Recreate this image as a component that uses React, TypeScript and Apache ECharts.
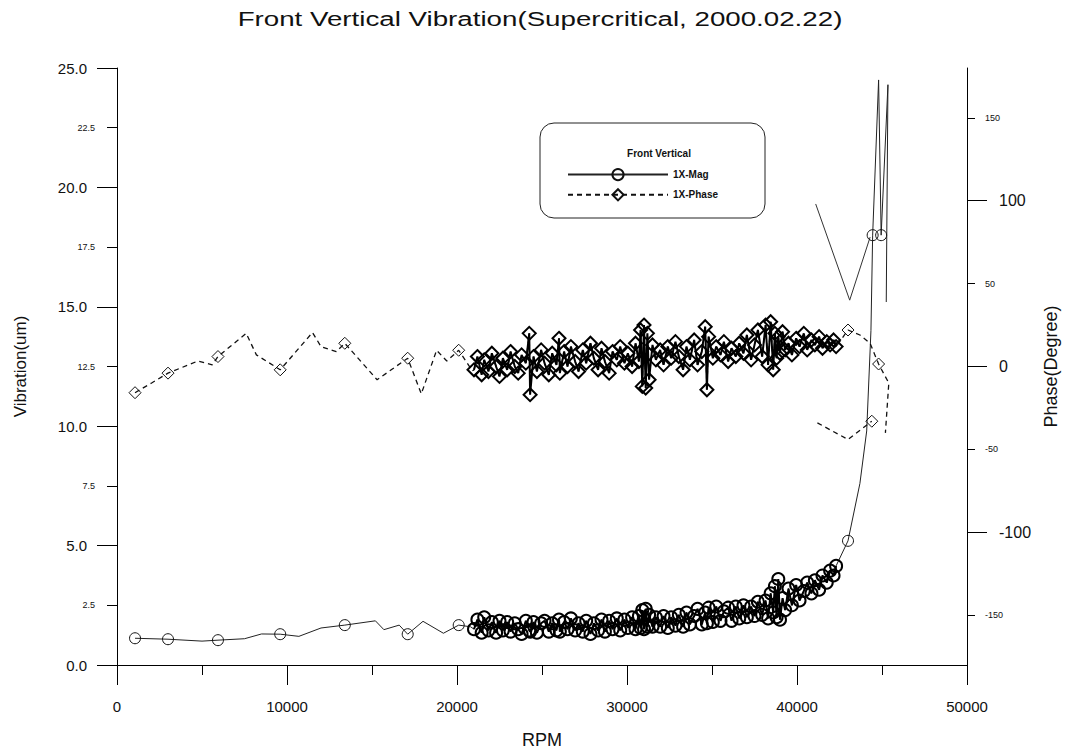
import React, { useEffect, useRef } from "react";
import * as echarts from "echarts";

// ---- data (RPM, value, marker flag) ----
const magSparse: number[][] = [
  [1060, 1.12, 1], [3000, 1.08, 1], [5000, 1.0, 0], [5940, 1.04, 1], [7500, 1.1, 0],
  [8500, 1.3, 0], [9600, 1.29, 1], [10700, 1.2, 0], [12000, 1.55, 0], [13400, 1.67, 1],
  [15200, 1.85, 0], [15700, 1.48, 0], [16600, 1.67, 0], [17100, 1.29, 1], [18000, 1.83, 0],
  [19200, 1.33, 0], [20100, 1.67, 1], [20800, 1.6, 0],
];

const magDense: number[][] = [
  [21000, 1.5], [21200, 1.9], [21450, 1.35], [21600, 2.0], [21850, 1.45], [22050, 1.8],
  [22300, 1.35], [22500, 1.85], [22700, 1.45], [22950, 1.8], [23150, 1.4], [23400, 1.75],
  [23600, 1.5], [23800, 1.3], [24050, 1.85], [24250, 1.45], [24300, 1.4], [24500, 1.8],
  [24700, 1.35], [24950, 1.75], [25150, 1.85], [25400, 1.4], [25600, 1.75], [25850, 1.45],
  [26000, 1.9], [26050, 1.4], [26300, 1.8], [26500, 1.5], [26700, 1.95], [26950, 1.45],
  [27150, 1.75], [27400, 1.4], [27600, 1.85], [27850, 1.3], [28050, 1.75], [28300, 1.45],
  [28500, 1.9], [28700, 1.4], [28950, 1.85], [29150, 1.5], [29400, 1.95], [29600, 1.45],
  [29850, 1.9], [30050, 1.55], [30300, 2.0], [30500, 1.5], [30700, 2.05], [30800, 1.55],
  [30900, 2.3], [31000, 1.5], [31100, 2.35], [31200, 1.6], [31300, 2.1], [31500, 1.6],
  [31700, 2.0], [31950, 1.6], [32150, 2.05], [32400, 1.55], [32600, 2.0], [32850, 1.65],
  [33050, 2.1], [33300, 1.6], [33500, 2.2], [33700, 1.7], [33950, 2.05], [34150, 2.35],
  [34400, 1.7], [34600, 2.2], [34700, 1.75], [34800, 2.4], [35050, 1.8], [35250, 2.45],
  [35500, 1.85], [35700, 2.25], [35950, 2.4], [36150, 1.85], [36400, 2.45], [36600, 1.95],
  [36850, 2.5], [37050, 2.0], [37300, 2.45], [37500, 2.05], [37700, 2.65], [37950, 2.1],
  [38150, 2.7], [38300, 1.95], [38450, 3.0], [38600, 2.2], [38700, 3.3], [38800, 2.0],
  [38900, 3.6], [39000, 1.9], [39150, 2.8], [39300, 2.3], [39500, 3.2], [39700, 2.5],
  [39950, 3.35], [40150, 2.7], [40400, 3.1], [40600, 3.45], [40850, 3.0], [41050, 3.55],
  [41300, 3.15], [41500, 3.75], [41750, 3.45], [41950, 3.95], [42150, 3.75], [42300, 4.15],
];

const magTail: number[][] = [
  [43000, 5.2, 1], [43700, 7.6, 0], [44100, 9.8, 0], [44350, 14, 0], [44450, 18, 1],
  [44800, 24.5, 0], [44950, 18, 1], [45350, 24.3, 0], [45250, 15.2, 0],
];

const phaseSparse: number[][] = [
  [1060, -15.8, 1], [2060, -9.8, 0], [3000, -4, 1], [4760, 3.3, 0], [5600, 1, 0],
  [5940, 6, 1], [7600, 20, 0], [8200, 7, 0], [9600, -2, 1], [11500, 20.5, 0],
  [12000, 12, 0], [12900, 9, 0], [13400, 14, 1], [15300, -8, 0], [17100, 5, 1],
  [17900, -16.5, 0], [18800, 9.8, 0], [19400, 3.3, 0], [20100, 9.8, 1], [20900, -2.6, 0],
];

const phaseDense: number[][] = [
  [21000, -2], [21200, 6], [21450, -5], [21600, 4], [21850, -3], [22050, 8],
  [22300, 0], [22500, -6], [22700, 5], [22950, -2], [23150, 9], [23400, 0],
  [23600, -4], [23800, 7], [24050, 2], [24250, 20], [24300, -17], [24500, 6],
  [24700, -3], [24950, 10], [25150, 2], [25400, -5], [25600, 8], [25850, 1],
  [26000, 17], [26050, -4], [26300, 9], [26500, 0], [26700, 12], [26950, 3],
  [27150, -3], [27400, 10], [27600, 2], [27850, 14], [28050, 5], [28300, -2],
  [28500, 11], [28700, 3], [28950, -4], [29150, 9], [29400, 4], [29600, 12],
  [29850, 2], [30050, 8], [30300, 0], [30500, 14], [30700, 3], [30800, 22],
  [30900, -12], [31000, 25], [31100, -13], [31200, 20], [31300, -8], [31500, 13],
  [31700, 4], [31950, 10], [32150, 1], [32400, 12], [32600, 5], [32850, 15],
  [33050, 6], [33300, -2], [33500, 12], [33700, 4], [33950, 16], [34150, 1],
  [34400, 9], [34600, 24], [34700, -14], [34800, 18], [35050, 5], [35250, 12],
  [35500, 7], [35700, 15], [35950, 3], [36150, 11], [36400, 6], [36600, 14],
  [36850, 8], [37050, 19], [37300, 4], [37500, 13], [37700, 22], [37950, 6],
  [38150, 25], [38300, 1], [38450, 27], [38600, -2], [38700, 20], [38800, 5],
  [38900, 18], [39000, 8], [39150, 21], [39300, 10], [39500, 14], [39700, 7],
  [39950, 17], [40150, 12], [40400, 20], [40600, 10], [40850, 16], [41050, 13],
  [41300, 18], [41500, 11], [41750, 15], [41950, 13], [42150, 16], [42300, 12],
];

const phaseTail: number[][] = [
  [43000, 22, 1], [43700, 19, 0], [44300, 14, 0], [44800, 1.5, 1], [45400, -10, 0], [45200, -40, 0],
];

const phaseLowSegment: number[][] = [
  [41200, -34, 0], [43000, -44, 0], [44400, -33, 1],
];

const phaseHighSegment: number[][] = [
  [41100, 98], [43100, 40], [44300, 78],
];

const leftMajorTicks = [0, 5, 10, 15, 20, 25];
const rightMajorTicks = [-100, 0, 100];
const rightMinorTicks = [-150, -50, 50, 150];

const TITLE = "Front Vertical Vibration(Supercritical, 2000.02.22)";
const LEGEND_TITLE = "Front Vertical";

function toItems(rows: number[][], defaultMarker: number) {
  return rows.map((r) => {
    const m = r.length > 2 ? r[2] : defaultMarker;
    return m ? { value: [r[0], r[1]] } : { value: [r[0], r[1]], symbol: "none" };
  });
}

const FONT = "Liberation Sans, Arial, sans-serif";

export default function App() {
  const ref = useRef<HTMLDivElement>(null);
  useEffect(() => {
    if (!ref.current) return;
    const chart = echarts.init(ref.current, null, { renderer: "svg" });
    const magData = [...toItems(magSparse, 1), ...toItems(magDense, 0), ...toItems(magTail, 1)];
    const phaseData = [...toItems(phaseSparse, 1), ...toItems(phaseDense, 0), ...toItems(phaseTail, 1)];
    const black = "#000";
    const hollow = { color: "rgba(255,255,255,0)", borderColor: "#111", borderWidth: 1 };
    const hollowDense = { color: "rgba(255,255,255,0)", borderColor: "#000", borderWidth: 2 };
    chart.setOption({
      animation: false,
      backgroundColor: "#fff",
      textStyle: { fontFamily: FONT, color: black },
      grid: { left: 117, right: 112, top: 68, bottom: 85 },
      graphic: [
        {
          type: "text",
          x: 540,
          y: 19,
          scaleX: 1.32,
          style: { text: TITLE, font: `21px ${FONT}`, fill: "#111", align: "center", verticalAlign: "middle" },
        },
        {
          type: "rect",
          shape: { x: 540, y: 123, width: 225, height: 95, r: 14 },
          style: { fill: "none", stroke: "#222", lineWidth: 1 },
        },
        {
          type: "text",
          x: 659,
          y: 153,
          style: { text: LEGEND_TITLE, font: `bold 10px ${FONT}`, fill: "#111", align: "center", verticalAlign: "middle" },
        },
      ],
      legend: {
        data: ["1X-Mag", "1X-Phase"],
        orient: "vertical",
        left: 562,
        top: 163,
        itemWidth: 100,
        itemHeight: 14,
        itemGap: 7,
        textStyle: { fontSize: 10, fontWeight: "bold", color: "#111", fontFamily: FONT },
      },
      xAxis: {
        type: "value",
        min: 0,
        max: 50000,
        interval: 10000,
        name: "RPM",
        nameLocation: "middle",
        nameGap: 66,
        nameTextStyle: { fontSize: 18, color: "#111" },
        axisLine: { show: true, onZero: false, lineStyle: { color: black, width: 1 } },
        axisTick: { show: true, inside: false, length: 20, lineStyle: { color: black } },
        minorTick: { show: true, splitNumber: 2, length: 10, lineStyle: { color: black } },
        axisLabel: { fontSize: 15, color: "#111", margin: 34, formatter: (v: number) => String(v) },
        splitLine: { show: false },
        minorSplitLine: { show: false },
      },
      yAxis: [
        {
          type: "value",
          position: "left",
          min: 0,
          max: 25,
          interval: 5,
          name: "Vibration(um)",
          nameLocation: "middle",
          nameGap: 88,
          nameRotate: 90,
          nameTextStyle: { fontSize: 17, color: "#111" },
          axisLine: { show: true, onZero: false, lineStyle: { color: black, width: 1 } },
          axisTick: { show: true, inside: false, length: 20, lineStyle: { color: black } },
          axisLabel: {
            fontSize: 15,
            color: "#111",
            margin: 30,
            formatter: (v: number) => (leftMajorTicks.includes(v) ? v.toFixed(1) : ""),
          },
          splitLine: { show: false },
        },
        {
          type: "value",
          position: "left",
          min: 0,
          max: 25,
          interval: 2.5,
          axisLine: { show: false, onZero: false },
          axisTick: { show: true, inside: false, length: 10, lineStyle: { color: black } },
          axisLabel: {
            fontSize: 9,
            color: "#111",
            margin: 22,
            formatter: (v: number) => (leftMajorTicks.includes(v) ? "" : v.toFixed(1)),
          },
          splitLine: { show: false },
        },
        {
          type: "value",
          position: "right",
          min: -180,
          max: 180,
          name: "Phase(Degree)",
          nameLocation: "middle",
          nameGap: 74,
          nameRotate: 90,
          nameTextStyle: { fontSize: 18, color: "#111" },
          axisLine: { show: true, onZero: false, lineStyle: { color: black, width: 1 } },
          axisTick: { show: true, inside: false, length: 20, customValues: rightMajorTicks, lineStyle: { color: black } },
          axisLabel: { fontSize: 16, color: "#111", margin: 32, customValues: rightMajorTicks },
          splitLine: { show: false },
        },
        {
          type: "value",
          position: "right",
          min: -180,
          max: 180,
          axisLine: { show: false, onZero: false },
          axisTick: { show: true, inside: false, length: 8, customValues: rightMinorTicks, lineStyle: { color: black } },
          axisLabel: { fontSize: 9, color: "#111", margin: 18, customValues: rightMinorTicks },
          splitLine: { show: false },
        },
      ],
      series: [
        {
          name: "1X-Mag",
          type: "line",
          yAxisIndex: 0,
          data: magData,
          symbol: "circle",
          symbolSize: 11,
          itemStyle: hollow,
          lineStyle: { color: "#222", width: 1 },
          z: 3,
        },
        {
          name: "1X-Phase",
          type: "line",
          yAxisIndex: 2,
          data: phaseData,
          symbol: "diamond",
          symbolSize: 12,
          itemStyle: hollow,
          lineStyle: { color: "#111", width: 1.3, type: [5, 4] },
          z: 3,
        },
        {
          name: "mag-dense",
          type: "line",
          yAxisIndex: 0,
          data: magDense,
          symbol: "circle",
          symbolSize: 12,
          itemStyle: hollowDense,
          lineStyle: { color: "#000", width: 2 },
          z: 4,
        },
        {
          name: "phase-dense",
          type: "line",
          yAxisIndex: 2,
          data: phaseDense,
          symbol: "diamond",
          symbolSize: 13,
          itemStyle: hollowDense,
          lineStyle: { color: "#000", width: 2 },
          z: 4,
        },
        {
          name: "phase-low",
          type: "line",
          yAxisIndex: 2,
          data: toItems(phaseLowSegment, 1),
          symbol: "diamond",
          symbolSize: 12,
          itemStyle: hollow,
          lineStyle: { color: "#111", width: 1.3, type: [5, 4] },
        },
        {
          name: "phase-high",
          type: "line",
          yAxisIndex: 2,
          data: phaseHighSegment,
          symbol: "none",
          lineStyle: { color: "#333", width: 1 },
        },
      ],
    });
    return () => chart.dispose();
  }, []);
  return <div ref={ref} style={{ position: "fixed", left: 0, top: 0, width: 1079, height: 754 }} />;
}
